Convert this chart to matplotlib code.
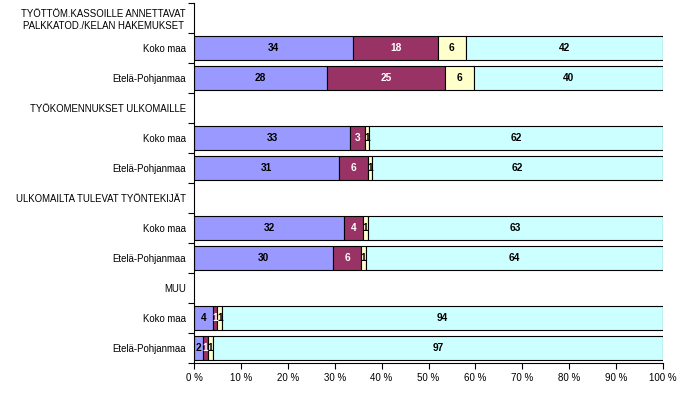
import matplotlib
matplotlib.use("Agg")
import matplotlib.pyplot as plt
import numpy as np

plt.rcParams['font.family'] = ['Liberation Sans', 'DejaVu Sans']

row_labels = ["TYÖTTÖM.KASSOILLE ANNETTAVAT\nPALKKATOD./KELAN HAKEMUKSET",
              "Koko maa", "Etelä-Pohjanmaa",
              "TYÖKOMENNUKSET ULKOMAILLE",
              "Koko maa", "Etelä-Pohjanmaa",
              "ULKOMAILTA TULEVAT TYÖNTEKIJÄT",
              "Koko maa", "Etelä-Pohjanmaa",
              "MUU",
              "Koko maa", "Etelä-Pohjanmaa"]
bar_rows = [1, 2, 4, 5, 7, 8, 10, 11]

s1 = [34, 28, 33, 31, 32, 30, 4, 2]
s2 = [18, 25, 3, 6, 4, 6, 1, 1]
s3 = [6, 6, 1, 1, 1, 1, 1, 1]
s4 = [42, 40, 62, 62, 63, 64, 94, 97]
series = [s1, s2, s3, s4]
colors = ['#9999FF', '#993366', '#FFFFCC', '#CCFFFF']
label_colors = ['black', 'white', 'black', 'black']
xticklabels = ["0 %", "10 %", "20 %", "30 %", "40 %", "50 %", "60 %", "70 %", "80 %", "90 %", "100 %"]

fig = plt.figure(figsize=(6.92, 3.96), dpi=100)
ax = fig.add_axes([194/692, 33/396, (663-194)/692, (363-3)/396])

data = np.array(series, dtype=float)
totals = data.sum(axis=0)
pct = data / totals * 100
left = np.zeros(len(bar_rows))
for i in range(4):
    bars = ax.barh(bar_rows, pct[i], left=left, height=0.8, color=colors[i],
                   edgecolor='black', linewidth=0.8)
    for j, b in enumerate(bars):
        cx = left[j] + pct[i][j] / 2
        ax.text(cx, bar_rows[j], str(series[i][j]), ha='center', va='center',
                fontsize=7.3, fontweight='bold', color=label_colors[i])
    left += pct[i]

ax.set_xlim(0, 100)
ax.set_ylim(11.5, -0.5)
ax.set_xticks(np.arange(0, 101, 10))
ax.set_xticklabels(xticklabels, fontsize=7)
ax.set_yticks(np.arange(12))
ax.set_yticklabels(row_labels, fontsize=6.9, multialignment='center')
ax.set_yticks(np.arange(-0.5, 12, 1), minor=True)
ax.tick_params(axis='y', which='major', length=0, pad=6)
ax.tick_params(axis='y', which='minor', length=4, width=0.8, direction='out')
ax.tick_params(axis='x', length=4, width=0.8, direction='out', pad=3)
ax.spines['top'].set_visible(False)
ax.spines['right'].set_visible(False)
ax.spines['left'].set_linewidth(0.8)
ax.spines['bottom'].set_linewidth(0.8)

fig.savefig('out.png', dpi=100)
